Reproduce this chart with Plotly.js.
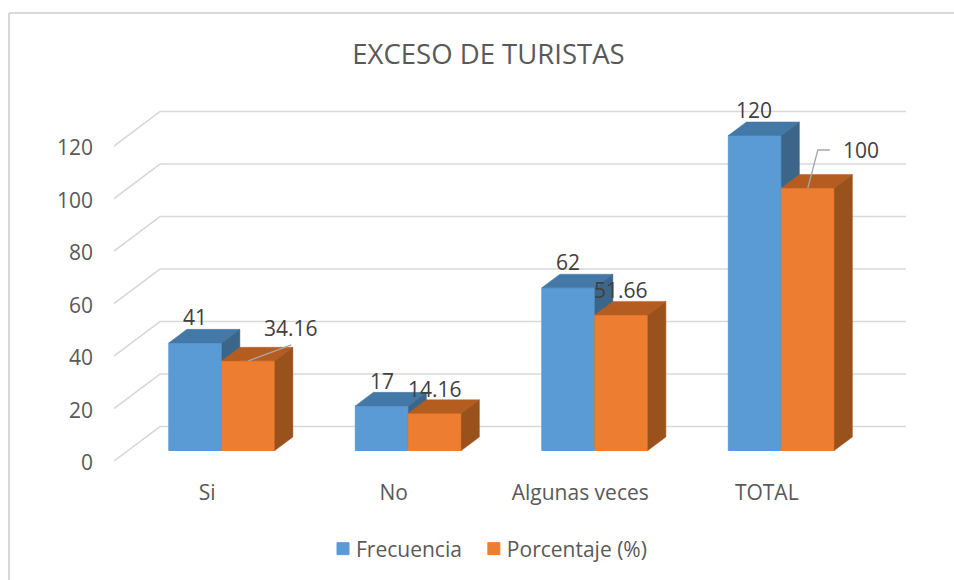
<!DOCTYPE html>
<html>
<head>
<meta charset="utf-8">
<script src="https://cdn.plot.ly/plotly-3.0.1.min.js"></script>
<style>html,body{margin:0;padding:0;background:#fff;overflow:hidden}#c{width:954px;height:580px}
.legendtext{transform:translateX(-7px)}
.yaxislayer-above{transform:translateY(2px)}</style>
</head>
<body>
<div id="c"></div>
<script>
// ---------- data ----------
var categories = ['Si', 'No', 'Algunas veces', 'TOTAL'];
var frecuencia = [41, 17, 62, 120];
var porcentaje = [34.16, 14.16, 51.66, 100];
var frecuenciaLabels = ['41', '17', '62', '120'];
var porcentajeLabels = ['34.16', '14.16', '51.66', '100'];
var yTicks = [0, 20, 40, 60, 80, 100, 120];

// ---------- plot geometry ----------
var W = 954, H = 580;
var L = 114, R = 906, T = 96, B = 461;
var pxPerCat = 186.5, pxPerVal = 2.625;
var xRange = [-0.5, -0.5 + (R - L) / pxPerCat];
var yRange = [0, (B - T) / pxPerVal];
var px = function (d) { return d / pxPerCat; };
var pv = function (d) { return d / pxPerVal; };
// oblique depth projection: d = 0 front of the floor, d = 1 back wall
var DX = px(46), DY = pv(34.5);
var D0 = 0.304, D1 = 0.696;
var barW = px(53);
var baseVal = D0 * DY;

function seriesX(i, s) { return i + px(0.6) + D0 * DX + (s === 0 ? -barW / 2 : barW / 2); }

var traces = [];
// grid: back wall plus the diagonal on the side wall
yTicks.forEach(function (t) {
  traces.push({
    type: 'scatter', mode: 'lines', xaxis: 'x', yaxis: 'y', showlegend: false, hoverinfo: 'skip',
    x: [xRange[0], xRange[0] + DX, xRange[1]],
    y: [t, t + DY, t + DY],
    line: { color: '#d9d9d9', width: 1.6 }
  });
});

function barSeries(name, vals, s, ax, ay, front, top, side) {
  traces.push({
    type: 'bar', name: name, xaxis: ax, yaxis: ay,
    x: vals.map(function (v, i) { return seriesX(i, s); }),
    y: vals, base: vals.map(function () { return baseVal; }),
    width: barW,
    marker: { color: front, line: { color: front, width: 1 } },
    hoverinfo: 'skip'
  });
  vals.forEach(function (v, i) {
    var xl = seriesX(i, s) - barW / 2, xr = xl + barW, yt = v + baseVal;
    var ddx = (D1 - D0) * DX, ddy = (D1 - D0) * DY;
    traces.push({
      type: 'scatter', mode: 'lines', xaxis: ax, yaxis: ay, showlegend: false, hoverinfo: 'skip',
      x: [xl, xr, xr + ddx, xl + ddx, xl], y: [yt, yt, yt + ddy, yt + ddy, yt],
      fill: 'toself', fillcolor: top, line: { color: top, width: 0.5 }
    });
    traces.push({
      type: 'scatter', mode: 'lines', xaxis: ax, yaxis: ay, showlegend: false, hoverinfo: 'skip',
      x: [xr, xr + ddx, xr + ddx, xr, xr], y: [baseVal, baseVal + ddy, yt + ddy, yt, baseVal],
      fill: 'toself', fillcolor: side, line: { color: side, width: 0.5 }
    });
  });
}
barSeries('Frecuencia', frecuencia, 0, 'x2', 'y2', '#5b9bd5', '#4478a6', '#3b6689');
barSeries('Porcentaje (%)', porcentaje, 1, 'x3', 'y3', '#ed7d31', '#b55d20', '#99521c');

// leader lines for the two moved labels
function leader(i, pts) {
  var x0 = seriesX(i, 1), y0 = porcentaje[i] + baseVal;
  traces.push({
    type: 'scatter', mode: 'lines', xaxis: 'x3', yaxis: 'y3', showlegend: false, hoverinfo: 'skip',
    x: pts.map(function (p) { return x0 + px(p[0]); }),
    y: pts.map(function (p) { return y0 + pv(p[1]); }),
    line: { color: '#a6a6a6', width: 1.3 }
  });
}
leader(0, [[0, 0], [43, 16]]);
leader(3, [[0, 0], [10, 38], [22, 38]]);

var labelFont = { family: 'Open Sans, sans-serif', size: 21, color: '#404040' };
var annotations = [];
var blueShift = [[0, 26], [0, 25], [0, 26], [-1, 26]];
var orangeShift = [[43, 33], [0, 24], [0, 25], [53, 38]];
function addLabels(vals, texts, s, shifts) {
  vals.forEach(function (v, i) {
    annotations.push({
      xref: 'x3', yref: 'y3', x: seriesX(i, s), y: v + baseVal, text: texts[i], showarrow: false,
      xanchor: 'center', yanchor: 'middle', xshift: shifts[i][0], yshift: shifts[i][1], font: labelFont
    });
  });
}
addLabels(frecuencia, frecuenciaLabels, 0, blueShift);
addLabels(porcentaje, porcentajeLabels, 1, orangeShift);

var hiddenAxis = function (r, o) {
  return { range: r, visible: false, fixedrange: true, overlaying: o };
};
var paperX = function (p) { return (p - L) / (R - L); };
var paperY = function (p) { return (B - p) / (B - T); };
var frame = { color: '#d9d9d9', width: 2 };

var layout = {
  width: W, height: H,
  margin: { l: L, r: W - R, t: T, b: H - B, pad: 0, autoexpand: false },
  paper_bgcolor: '#ffffff', plot_bgcolor: 'rgba(0,0,0,0)',
  title: {
    text: 'EXCESO DE TURISTAS', x: 488.5 / W, xanchor: 'center', y: 1 - 54 / H, yanchor: 'middle',
    font: { family: 'Open Sans, sans-serif', size: 27.5, color: '#595959' }
  },
  barmode: 'overlay',
  showlegend: true,
  legend: {
    orientation: 'h', x: paperX(323), xanchor: 'left', y: paperY(549), yanchor: 'middle',
    font: { family: 'Open Sans, sans-serif', size: 21, color: '#595959' },
    traceorder: 'normal', bgcolor: 'rgba(0,0,0,0)'
  },
  xaxis: {
    range: xRange, tickmode: 'array', tickvals: [0, 1, 2, 3], ticktext: categories,
    showgrid: false, zeroline: false, showline: false, ticks: '', ticklabelstandoff: 17, fixedrange: true,
    tickfont: { family: 'Open Sans, sans-serif', size: 21, color: '#595959' }
  },
  yaxis: {
    range: yRange, tickmode: 'array', tickvals: yTicks,
    showgrid: false, zeroline: false, showline: false, ticks: '', ticklabelstandoff: 20, fixedrange: true,
    tickfont: { family: 'Open Sans, sans-serif', size: 21, color: '#595959' }
  },
  xaxis2: hiddenAxis(xRange, 'x'), yaxis2: hiddenAxis(yRange, 'y'),
  xaxis3: hiddenAxis(xRange, 'x'), yaxis3: hiddenAxis(yRange, 'y'),
  annotations: annotations,
  shapes: [
    { type: 'line', xref: 'paper', yref: 'paper', x0: paperX(9), x1: paperX(954), y0: paperY(13), y1: paperY(13), line: frame },
    { type: 'line', xref: 'paper', yref: 'paper', x0: paperX(9), x1: paperX(9), y0: paperY(13), y1: paperY(580), line: frame }
  ]
};
Plotly.newPlot('c', traces, layout, { displayModeBar: false, staticPlot: true });
</script>
</body>
</html>
